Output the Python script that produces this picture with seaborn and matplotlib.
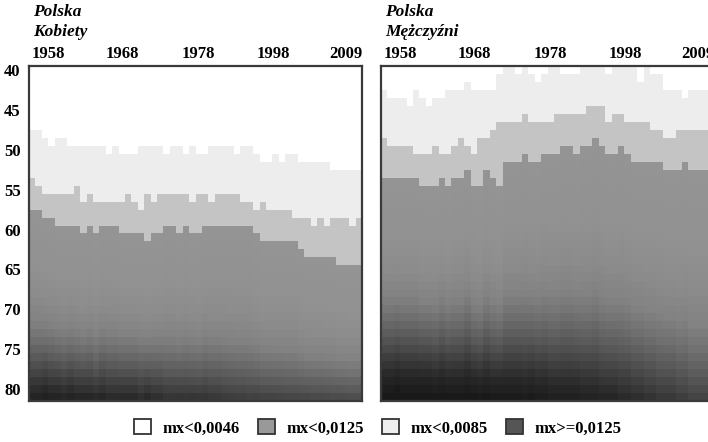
import numpy as np
import pandas as pd
import matplotlib
matplotlib.use("Agg")
import matplotlib.pyplot as plt
import seaborn as sns
from matplotlib.colors import LinearSegmentedColormap
from matplotlib.patches import Patch

# ---------------- data ----------------
years = list(range(1958, 2010))
ages = list(range(40, 82))
xtick_labels = ["1958", "1968", "1978", "1998", "2009"]
ytick_labels = [40, 45, 50, 55, 60, 65, 70, 75, 80]
thresholds = [0.0046, 0.0085, 0.0125]
legend_labels = ["mx<0,0046", "mx<0,0125", "mx<0,0085", "mx>=0,0125"]

# first age (per year) at which mx reaches each threshold - women
women_a1 = [48, 48, 49, 50, 49, 49, 50, 50, 50, 50, 50, 50, 51, 50, 51, 51, 51, 50, 50, 50,
            50, 51, 50, 50, 51, 50, 51, 51, 50, 50, 50, 50, 51, 50, 50, 51, 52, 52, 51, 52,
            51, 51, 52, 52, 52, 52, 52, 53, 53, 53, 53, 53]
women_a2 = [54, 55, 56, 56, 56, 56, 56, 55, 57, 56, 57, 57, 57, 57, 57, 56, 57, 58, 56, 57,
            56, 56, 56, 56, 56, 57, 56, 56, 57, 56, 56, 56, 56, 57, 57, 58, 57, 58, 58, 58,
            58, 59, 59, 59, 60, 59, 60, 59, 59, 59, 60, 59]
women_a3 = [58, 58, 59, 59, 60, 60, 60, 60, 61, 60, 61, 60, 60, 60, 61, 61, 61, 61, 62, 61,
            61, 60, 60, 61, 60, 61, 61, 60, 60, 60, 60, 60, 60, 60, 60, 61, 62, 62, 62, 62,
            62, 62, 63, 64, 64, 64, 64, 64, 65, 65, 65, 65]
women_mx80 = [0.12, 0.12, 0.125, 0.12, 0.12, 0.115, 0.12, 0.115, 0.115, 0.115,
              0.11, 0.115, 0.11, 0.11, 0.11, 0.11, 0.11, 0.105, 0.11, 0.105,
              0.105, 0.10, 0.10, 0.10, 0.10, 0.10, 0.098, 0.10, 0.097, 0.097,
              0.095, 0.093, 0.092, 0.092, 0.09, 0.09, 0.088, 0.088, 0.087, 0.086,
              0.085, 0.085, 0.084, 0.083, 0.082, 0.082, 0.081, 0.08, 0.08, 0.079, 0.078, 0.078]

# men
men_a1 = [43, 44, 44, 44, 45, 43, 44, 45, 44, 44, 43, 43, 43, 42, 43, 43, 43, 43, 41, 40,
          40, 41, 40, 41, 42, 41, 40, 40, 41, 41, 41, 40, 40, 40, 40, 41, 40, 40, 40, 40,
          42, 40, 41, 41, 43, 43, 43, 44, 43, 43, 43, 43]
men_a2 = [49, 50, 50, 50, 50, 51, 51, 51, 50, 51, 51, 50, 49, 50, 51, 49, 49, 48, 47, 47,
          47, 47, 46, 47, 47, 47, 47, 46, 46, 46, 46, 46, 45, 45, 45, 47, 46, 46, 47, 47,
          47, 47, 48, 48, 49, 49, 48, 48, 48, 48, 48, 48]
men_a3 = [54, 54, 54, 54, 54, 54, 55, 55, 55, 54, 55, 54, 54, 53, 55, 55, 53, 54, 55, 52,
          52, 52, 51, 52, 52, 51, 51, 51, 50, 50, 51, 50, 50, 49, 50, 51, 51, 50, 51, 52,
          52, 52, 52, 52, 53, 53, 53, 52, 53, 53, 53, 53]
men_mx80 = [0.15, 0.15, 0.155, 0.15, 0.15, 0.15, 0.15, 0.15, 0.145, 0.15,
            0.145, 0.145, 0.145, 0.15, 0.145, 0.14, 0.145, 0.14, 0.14, 0.14,
            0.14, 0.14, 0.135, 0.14, 0.135, 0.135, 0.13, 0.13, 0.13, 0.13,
            0.13, 0.125, 0.125, 0.125, 0.12, 0.12, 0.12, 0.115, 0.115, 0.11,
            0.11, 0.105, 0.105, 0.10, 0.10, 0.10, 0.095, 0.095, 0.09, 0.09, 0.09, 0.09]

# ---------------- styling ----------------
C_WHITE, C_LIGHT, C_MED = "#ffffff", "#ededed", "#c4c4c4"
G_TOP, G_BOT = 148, 20
log_nodes = [np.log10(0.0125), -1.6, -1.45, -1.3, -1.2, -1.1, -1.0, -0.9, -0.8]
gray_nodes = [148, 145, 140, 130, 112, 90, 65, 40, 25]


def g(v):
    return (v / 255.0,) * 3


cmap = LinearSegmentedColormap.from_list(
    "lexis",
    [(0.0, C_WHITE), (0.2499, C_WHITE), (0.25, C_LIGHT), (0.4999, C_LIGHT),
     (0.5, C_MED), (0.7499, C_MED), (0.75, g(G_TOP)), (1.0, g(G_BOT))], N=2048)


def surface(a1, a2, a3, m80):
    Z = np.zeros((len(ages), len(years)))
    for j in range(len(years)):
        for i, age in enumerate(ages):
            if age < a1[j]:
                v = 0.5
            elif age < a2[j]:
                v = 1.5
            elif age < a3[j]:
                v = 2.5
            else:
                t = (age - a3[j]) / (80 - a3[j])
                mx = thresholds[2] * (m80[j] / thresholds[2]) ** t
                gray = np.interp(np.log10(mx), log_nodes, gray_nodes)
                v = 3 + (G_TOP - gray) / (G_TOP - G_BOT)
            Z[i, j] = v
    return pd.DataFrame(Z, index=ages, columns=years)


W, H = 708, 442
fig = plt.figure(figsize=(W / 100, H / 100), dpi=100)
serif = "Liberation Serif"

panels = [
    (29, "Kobiety", surface(women_a1, women_a2, women_a3, women_mx80), True),
    (381, "Mężczyźni", surface(men_a1, men_a2, men_a3, men_mx80), False),
]
top_px, bot_px, width_px = 66, 401, 333
xpos = [3.0, 14.6, 26.4, 38.1, 49.5]

for left_px, sub, df, show_y in panels:
    ax = fig.add_axes([left_px / W, 1 - bot_px / H, width_px / W, (bot_px - top_px) / H])
    sns.heatmap(df, ax=ax, cmap=cmap, vmin=0, vmax=4, cbar=False,
                xticklabels=False, yticklabels=False)
    ax.xaxis.tick_top()
    ax.set_xticks(xpos)
    ax.set_xticklabels(xtick_labels, fontfamily=serif, fontweight="bold", fontsize=12)
    ax.tick_params(axis="x", length=0, pad=3)
    if show_y:
        ax.set_yticks([a - 40 + 0.5 for a in ytick_labels])
        ax.set_yticklabels([str(a) for a in ytick_labels], fontfamily=serif,
                           fontweight="bold", fontsize=12, rotation=0)
        ax.tick_params(axis="y", length=0, pad=6)
    else:
        ax.set_yticks([])
    ax.set_xlabel("")
    ax.set_ylabel("")
    for s in ax.spines.values():
        s.set_visible(True)
        s.set_color("#3a3a3a")
        s.set_linewidth(1.6)
    fig.text((left_px + 4) / W, 1 - 12 / H, "Polska", fontfamily=serif, fontweight="bold",
             fontstyle="italic", fontsize=12.5, va="center", ha="left")
    fig.text((left_px + 4) / W, 1 - 32 / H, sub, fontfamily=serif, fontweight="bold",
             fontstyle="italic", fontsize=12.5, va="center", ha="left")

legend_colors = ["#ffffff", "#999999", "#eeeeee", "#555555"]
handles = [Patch(facecolor=c, edgecolor="#333333", linewidth=1.3) for c in legend_colors]
fig.legend(handles, legend_labels, loc="center", bbox_to_anchor=(378 / W, 1 - 428 / H),
           ncol=4, frameon=False, handlelength=1.0, handleheight=1.0, handletextpad=0.7,
           columnspacing=1.1, prop={"family": serif, "weight": "bold", "size": 12})

fig.savefig("out.png", dpi=100)
